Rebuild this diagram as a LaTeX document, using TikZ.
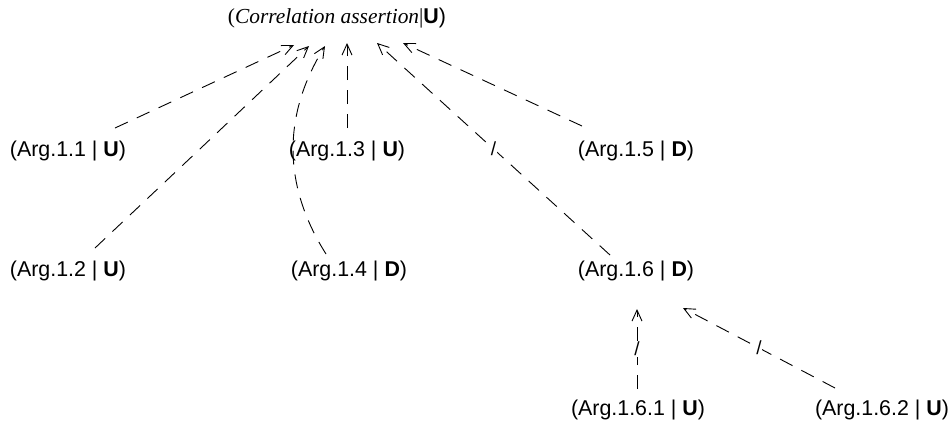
\documentclass[tikz,border=0pt]{standalone}
\usepackage{fontspec}
\setmainfont{Liberation Serif}
\setsansfont{Liberation Sans}
\usetikzlibrary{arrows.meta}
\begin{document}
\begin{tikzpicture}[x=0.5pt,y=-0.5pt,
  lab/.style={font=\sffamily\fontsize{10.7}{12}\selectfont, inner sep=0pt},
  edge/.style={draw=black, line width=0.45pt, dash pattern=on 7pt off 5pt,
    -{Straight Barb[length=5.5pt,width=5pt]}},
  tickmark/.style={font=\sffamily\fontsize{9.5}{10}\selectfont, inner sep=0.3pt, fill=white}]
\useasboundingbox (0,0) rectangle (951,430);
\node[lab] (root) at (337,18) {\rmfamily(\textit{Correlation assertion}|\sffamily\textbf{U})};
\node[lab] (a11) at (68,151) {(Arg.1.1 | \textbf{U})};
\node[lab] (a13) at (347,151) {(Arg.1.3 | \textbf{U})};
\node[lab] (a15) at (636,151) {(Arg.1.5 | \textbf{D})};
\node[lab] (a12) at (68,271) {(Arg.1.2 | \textbf{U})};
\node[lab] (a14) at (349,271) {(Arg.1.4 | \textbf{D})};
\node[lab] (a16) at (636,271) {(Arg.1.6 | \textbf{D})};
\node[lab] (a161) at (638,410) {(Arg.1.6.1 | \textbf{U})};
\node[lab] (a162) at (882,410) {(Arg.1.6.2 | \textbf{U})};
\draw[edge] ([shift={(47,-23)}]a11.center) -- ([shift={(-43,27)}]root.center);
\draw[edge] ([shift={(27,-23)}]a12.center) -- ([shift={(-28,28)}]root.center);
\draw[edge] ([shift={(-23,-17)}]a14.center) to[bend left=32] ([shift={(-12,28)}]root.center);
\draw[edge] ([shift={(0,-23)}]a13.center) -- ([shift={(10,25)}]root.center);
\draw[edge] ([shift={(-26,-16)}]a16.center) -- node[tickmark] {/} ([shift={(40,25)}]root.center);
\draw[edge] ([shift={(-54,-25)}]a15.center) -- ([shift={(66,25)}]root.center);
\draw[edge] ([shift={(-1,-21)}]a161.center) -- node[tickmark] {/} ([shift={(1,38)}]a16.center);
\draw[edge] ([shift={(-47,-22)}]a162.center) -- node[tickmark] {/} ([shift={(47,37)}]a16.center);
\end{tikzpicture}
\end{document}
